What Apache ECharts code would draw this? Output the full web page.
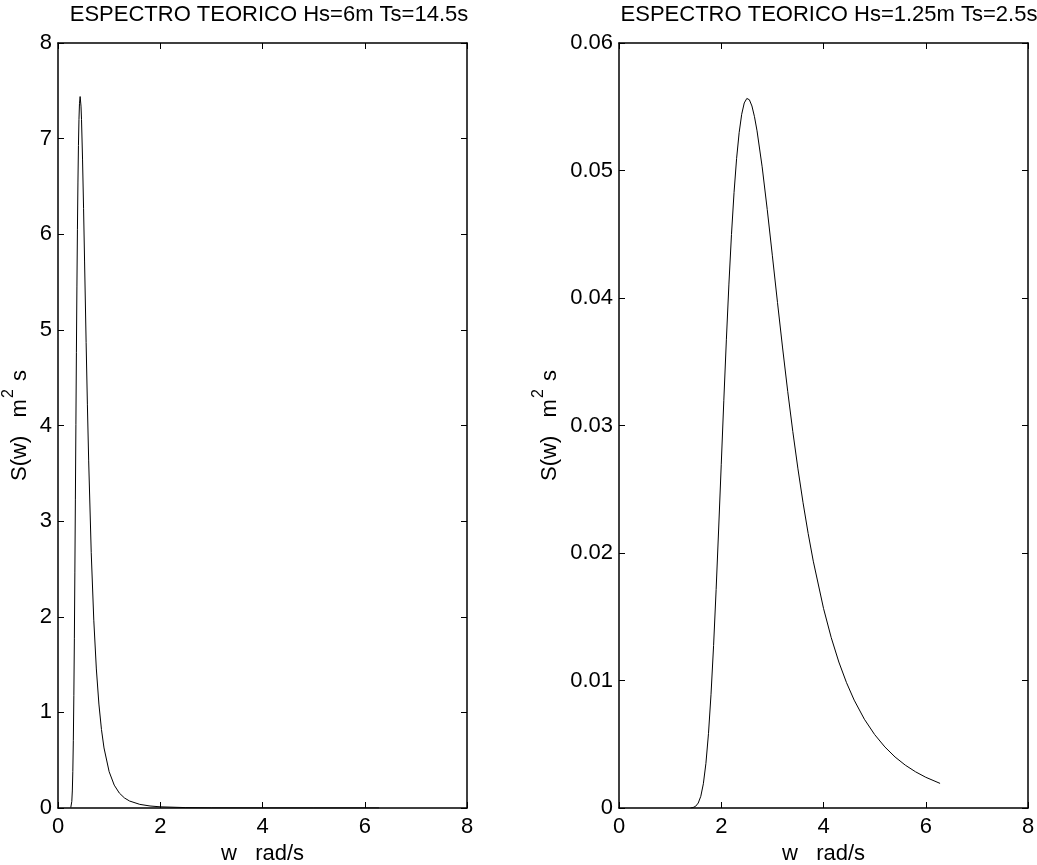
<!DOCTYPE html>
<html>
<head>
<meta charset="utf-8">
<script src="https://cdn.jsdelivr.net/npm/echarts@6/dist/echarts.min.js"></script>
<style>
html,body{margin:0;padding:0;background:#fff;}
#chart{width:1037px;height:865px;}
</style>
</head>
<body>
<div id="chart"></div>
<script>
// ---- data ----
const leftTitle = 'ESPECTRO TEORICO Hs=6m Ts=14.5s';
const rightTitle = 'ESPECTRO TEORICO Hs=1.25m Ts=2.5s';
const xTicks = [0, 2, 4, 6, 8];
const leftYTicks = [0, 1, 2, 3, 4, 5, 6, 7, 8];
const rightYTicks = [0, 0.01, 0.02, 0.03, 0.04, 0.05, 0.06];

const leftW = [0.25, 0.26, 0.27, 0.28, 0.29, 0.30, 0.31, 0.32, 0.33, 0.34, 0.35, 0.36, 0.37, 0.38, 0.39, 0.40, 0.41, 0.42, 0.433, 0.44, 0.45, 0.46, 0.48, 0.50, 0.52, 0.55, 0.575, 0.60, 0.65, 0.70, 0.75, 0.80, 0.85, 0.90, 1.0, 1.1, 1.2, 1.3, 1.4, 1.6, 1.8, 2.0, 2.5, 3.0, 4.0, 5.0, 6.28];
const leftS = [0.005, 0.022, 0.069, 0.178, 0.381, 0.708, 1.174, 1.769, 2.467, 3.230, 4.008, 4.761, 5.449, 6.052, 6.546, 6.929, 7.199, 7.365, 7.44, 7.421, 7.340, 7.198, 6.786, 6.271, 5.710, 4.869, 4.216, 3.630, 2.671, 1.964, 1.454, 1.087, 0.821, 0.628, 0.380, 0.239, 0.156, 0.105, 0.073, 0.038, 0.021, 0.0124, 0.0041, 0.0016, 0.0004, 0.0001, 0.00004];

const rightW = [1.40, 1.45, 1.50, 1.55, 1.60, 1.65, 1.70, 1.75, 1.80, 1.85, 1.90, 1.95, 2.00, 2.05, 2.10, 2.15, 2.20, 2.25, 2.30, 2.35, 2.40, 2.45, 2.50, 2.55, 2.60, 2.65, 2.70, 2.80, 2.90, 3.00, 3.10, 3.20, 3.30, 3.40, 3.50, 3.60, 3.70, 3.80, 4.00, 4.15, 4.30, 4.45, 4.60, 4.80, 5.00, 5.20, 5.40, 5.60, 5.80, 6.00, 6.28];
const rightS = [0.00000, 0.00004, 0.00014, 0.00039, 0.00092, 0.00190, 0.00350, 0.00583, 0.00892, 0.01274, 0.01714, 0.02196, 0.02696, 0.03194, 0.03672, 0.04109, 0.04498, 0.04827, 0.05093, 0.05297, 0.05441, 0.05530, 0.05565, 0.05555, 0.05506, 0.05422, 0.05311, 0.05029, 0.04693, 0.04331, 0.03965, 0.03608, 0.03268, 0.02952, 0.02660, 0.02394, 0.02153, 0.01936, 0.01566, 0.01338, 0.01145, 0.00983, 0.00846, 0.00696, 0.00576, 0.00479, 0.00400, 0.00336, 0.00284, 0.00241, 0.00193];

const pairs = (xs, ys) => xs.map((x, i) => [x, ys[i]]);

const FONT = '"Liberation Sans", Arial, Helvetica, sans-serif';
const FS = 22;
const grids = [
  {left: 58, top: 43, width: 409, height: 765, containLabel: false, outerBoundsMode: 'none'},
  {left: 619, top: 43, width: 409, height: 765, containLabel: false, outerBoundsMode: 'none'}
];
const axisLineStyle = {color: '#000', width: 1.5};
const tickStyle = {color: '#000', width: 1};

function xAxes(gi, name) {
  const base = {
    type: 'value', gridIndex: gi, min: 0, max: 8, interval: 2,
    axisLine: {show: true, onZero: false, lineStyle: axisLineStyle},
    axisTick: {show: true, inside: true, length: 6, lineStyle: tickStyle},
    splitLine: {show: false}
  };
  return [
    Object.assign({}, base, {
      position: 'bottom',
      axisLabel: {show: true, margin: 8, color: '#000', fontSize: FS, fontFamily: FONT,
        formatter: v => xTicks.includes(v) ? String(v) : ''},
      name: name, nameLocation: 'middle', nameGap: 35,
      nameTextStyle: {color: '#000', fontSize: FS, fontFamily: FONT}
    }),
    Object.assign({}, base, {position: 'top', axisLabel: {show: false}})
  ];
}

function yAxes(gi, max, interval, ticks, dec, nameGap) {
  const base = {
    type: 'value', gridIndex: gi, min: 0, max: max, interval: interval,
    axisLine: {show: true, onZero: false, lineStyle: axisLineStyle},
    axisTick: {show: true, inside: true, length: 6, lineStyle: tickStyle},
    splitLine: {show: false}
  };
  return [
    Object.assign({}, base, {
      position: 'left',
      axisLabel: {show: true, margin: 6, color: '#000', fontSize: FS, fontFamily: FONT,
        formatter: v => {
          const t = ticks.find(k => Math.abs(k - v) < interval / 1000);
          if (t === undefined) return '';
          return t === 0 ? '0' : t.toFixed(dec);
        }},
      name: '{n|S(w)   m}{sup|2}{n| s}',
      nameLocation: 'middle', nameGap: nameGap, nameRotate: 90,
      nameTextStyle: {
        color: '#000', fontFamily: FONT,
        rich: {
          n: {fontSize: FS, fontFamily: FONT, color: '#000', lineHeight: 30, verticalAlign: 'bottom'},
          sup: {fontSize: 16, fontFamily: FONT, color: '#000', lineHeight: 30, verticalAlign: 'top', padding: [0, 2, 0, 1]}
        }
      }
    }),
    Object.assign({}, base, {position: 'right', axisLabel: {show: false}})
  ];
}

const chart = echarts.init(document.getElementById('chart'), null, {renderer: 'canvas'});
chart.setOption({
  backgroundColor: '#fff',
  animation: false,
  title: [
    {text: leftTitle, left: 264, top: -1, textAlign: 'center',
      textStyle: {color: '#000', fontSize: FS, fontWeight: 'normal', fontFamily: FONT}},
    {text: rightTitle, left: 824, top: -1, textAlign: 'center',
      textStyle: {color: '#000', fontSize: FS, fontWeight: 'normal', fontFamily: FONT}}
  ],
  grid: grids,
  xAxis: [].concat(xAxes(0, 'w   rad/s'), xAxes(1, 'w   rad/s')),
  yAxis: [].concat(yAxes(0, 8, 1, leftYTicks, 0, 27), yAxes(1, 0.06, 0.01, rightYTicks, 2, 58)),
  series: [
    {type: 'line', xAxisIndex: 0, yAxisIndex: 0, data: pairs(leftW, leftS),
      showSymbol: false, smooth: false, lineStyle: {color: '#000', width: 1}, z: 1},
    {type: 'line', xAxisIndex: 2, yAxisIndex: 2, data: pairs(rightW, rightS),
      showSymbol: false, smooth: false, lineStyle: {color: '#000', width: 1}, z: 1}
  ]
});
</script>
</body>
</html>
